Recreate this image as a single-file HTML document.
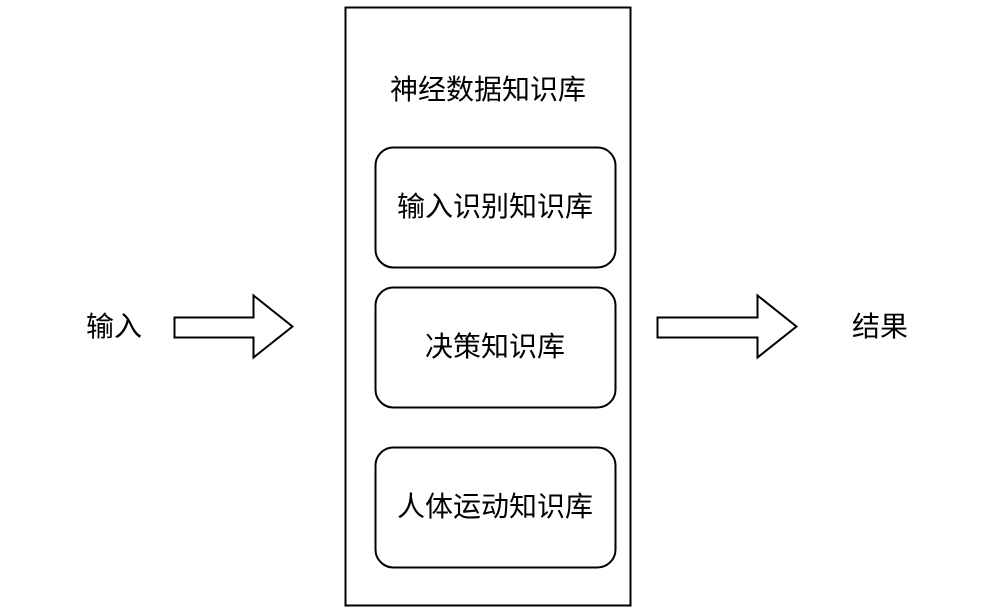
<!DOCTYPE html>
<html><head><meta charset="utf-8"><style>
html,body{margin:0;padding:0;background:#fff;}
body{width:996px;height:612px;position:relative;overflow:hidden;font-family:"Liberation Sans","Noto Sans CJK SC",sans-serif;color:#000;}
.t{position:absolute;font-size:28px;line-height:32px;white-space:nowrap;text-align:center;}
</style></head><body>
<svg width="996" height="612" style="position:absolute;left:0;top:0">
<rect x="345.5" y="7.5" width="285" height="598" fill="#fff" stroke="#000" stroke-width="2"/>
<rect x="375.5" y="147.5" width="240" height="120" rx="18" fill="#fff" stroke="#000" stroke-width="2"/>
<rect x="375.5" y="287.5" width="240" height="120" rx="18" fill="#fff" stroke="#000" stroke-width="2"/>
<rect x="375.5" y="447.5" width="240" height="120" rx="18" fill="#fff" stroke="#000" stroke-width="2"/>
<polygon points="174.5,317.5 253.5,317.5 253.5,295.5 292.5,326.5 253.5,357.5 253.5,337.5 174.5,337.5" fill="#fff" stroke="#000" stroke-width="2"/>
<polygon points="657.5,317.5 757.5,317.5 757.5,295.5 796.5,326.5 757.5,357.5 757.5,337.5 657.5,337.5" fill="#fff" stroke="#000" stroke-width="2"/>
</svg>
<div class="t" style="left:345px;width:286px;top:74px">神经数据知识库</div>
<div class="t" style="left:375px;width:240px;top:191px">输入识别知识库</div>
<div class="t" style="left:375px;width:240px;top:331px">决策知识库</div>
<div class="t" style="left:375px;width:240px;top:491px">人体运动知识库</div>
<div class="t" style="left:64px;width:100px;top:311px">输入</div>
<div class="t" style="left:830px;width:100px;top:311px">结果</div>
</body></html>
